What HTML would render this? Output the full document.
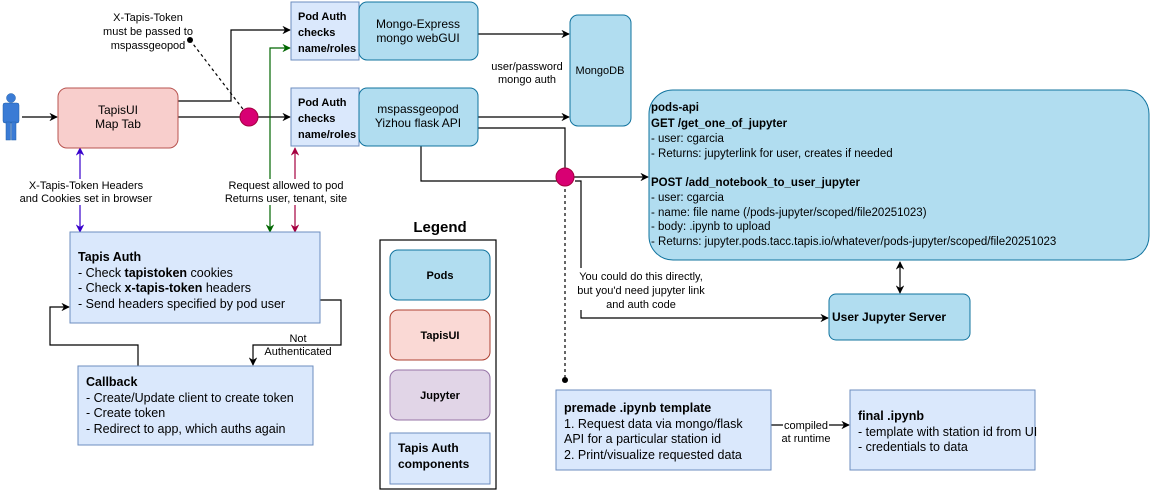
<!DOCTYPE html>
<html><head><meta charset="utf-8"><style>
html,body{margin:0;padding:0;background:#fff;}
svg{display:block;font-family:"Liberation Sans",Arial,sans-serif;}
</style></head><body>
<svg width="1150" height="491" viewBox="0 0 1150 491" xmlns="http://www.w3.org/2000/svg">
<defs>
<marker id="a" viewBox="0 0 10 10" refX="9" refY="5" markerWidth="7" markerHeight="7" orient="auto-start-reverse"><path d="M0,0 L10,5 L0,10 L3,5z" fill="#000"/></marker>
<marker id="g" viewBox="0 0 10 10" refX="9" refY="5" markerWidth="7" markerHeight="7" orient="auto-start-reverse"><path d="M0,0 L10,5 L0,10 L3,5z" fill="#006600"/></marker>
<marker id="r" viewBox="0 0 10 10" refX="9" refY="5" markerWidth="7" markerHeight="7" orient="auto-start-reverse"><path d="M0,0 L10,5 L0,10 L3,5z" fill="#a50040"/></marker>
<marker id="p" viewBox="0 0 10 10" refX="9" refY="5" markerWidth="7" markerHeight="7" orient="auto-start-reverse"><path d="M0,0 L10,5 L0,10 L3,5z" fill="#3700cc"/></marker>
</defs>
<g fill="none" stroke="#000" stroke-width="1.2">
<path d="M22,117 H57" marker-end="url(#a)"/>
<path d="M178,101 H231 V30 H290" marker-end="url(#a)"/>
<path d="M178,117 H290" marker-end="url(#a)"/>
<path d="M190,40 L249,117" stroke-dasharray="3,3"/>
<path d="M478,34 H569" marker-end="url(#a)"/>
<path d="M478,117 H569" marker-end="url(#a)"/>
<path d="M478,128 H565 V177"/>
<path d="M421,146 V181 H565"/>
<path d="M565,177 H648" marker-end="url(#a)"/>
<path d="M575,181 H581 V318 H828" marker-end="url(#a)"/>
<path d="M565,177 V380" stroke-dasharray="3,3"/>
<path d="M900,262 V293" marker-start="url(#a)" marker-end="url(#a)"/>
<path d="M320,300 H341 V345 H253 V365" marker-end="url(#a)"/>
<path d="M138,366 V345 H50 V307 H69" marker-end="url(#a)"/>
<path d="M771,425 H849" marker-end="url(#a)"/>
<path d="M270,232 V48 H290" stroke="#006600" marker-start="url(#g)" marker-end="url(#g)"/>
<path d="M295,148 V232" stroke="#a50040" marker-start="url(#r)" marker-end="url(#r)"/>
<path d="M80,148 V232" stroke="#3700cc" marker-start="url(#p)" marker-end="url(#p)"/>
</g>
<circle cx="190" cy="40" r="3" fill="#000"/>
<circle cx="565" cy="380" r="3" fill="#000"/>
<g fill="#3a7bd5" stroke="#1f5fa8" stroke-width="0.5">
<circle cx="11" cy="98" r="4.5"/>
<rect x="3" y="103" width="16" height="20" rx="2"/>
<rect x="6" y="122" width="4.5" height="18"/>
<rect x="11.5" y="122" width="4.5" height="18"/>
</g>
<rect x="58" y="88" width="120" height="60" rx="9" fill="#f8cecc" stroke="#b85450"/>
<rect x="291" y="2" width="68" height="58" fill="#dae8fc" stroke="#6c8ebf"/>
<rect x="359" y="2" width="119" height="58" rx="8" fill="#b1ddf0" stroke="#10739e"/>
<rect x="291" y="88" width="68" height="58" fill="#dae8fc" stroke="#6c8ebf"/>
<rect x="359" y="88" width="119" height="58" rx="8" fill="#b1ddf0" stroke="#10739e"/>
<rect x="570" y="15" width="61" height="111" rx="8" fill="#b1ddf0" stroke="#10739e"/>
<rect x="649" y="90" width="500" height="170" rx="24" fill="#b1ddf0" stroke="#10739e"/>
<rect x="829" y="294" width="141" height="46" rx="7" fill="#b1ddf0" stroke="#10739e"/>
<rect x="70" y="232" width="250" height="91" fill="#dae8fc" stroke="#6c8ebf"/>
<rect x="78" y="366" width="235" height="79" fill="#dae8fc" stroke="#6c8ebf"/>
<rect x="380" y="240" width="116" height="249" fill="none" stroke="#000" stroke-width="1.2"/>
<rect x="390" y="250" width="100" height="50" rx="8" fill="#b1ddf0" stroke="#10739e"/>
<rect x="390" y="310" width="100" height="50" rx="8" fill="#fad9d5" stroke="#ae4132"/>
<rect x="390" y="370" width="100" height="50" rx="8" fill="#e1d5e7" stroke="#9673a6"/>
<rect x="390" y="433" width="100" height="51" fill="#dae8fc" stroke="#6c8ebf"/>
<rect x="556" y="390" width="215" height="80" fill="#dae8fc" stroke="#6c8ebf"/>
<rect x="850" y="390" width="185" height="80" fill="#dae8fc" stroke="#6c8ebf"/>
<circle cx="249" cy="117" r="9" fill="#d80073" stroke="#a50040"/>
<circle cx="565" cy="177" r="9" fill="#d80073" stroke="#a50040"/>
<rect x="14" y="179" width="146" height="26" fill="#fff"/>
<rect x="222" y="179" width="128" height="26" fill="#fff"/>
<rect x="575" y="268" width="132" height="42" fill="#fff"/>
<rect x="783" y="416" width="46" height="26" fill="#fff"/>
<g font-size="11" fill="#000" text-anchor="middle">
<text x="118" y="114" font-size="12">TapisUI</text><text x="118" y="128" font-size="12">Map Tab</text>
<text x="418" y="28" font-size="12">Mongo-Express</text><text x="418" y="42" font-size="12">mongo webGUI</text>
<text x="418" y="113" font-size="12">mspassgeopod</text><text x="418" y="127" font-size="12">Yizhou flask API</text>
<text x="600" y="74">MongoDB</text>
<text x="527" y="70">user/password</text><text x="527" y="83">mongo auth</text>
<text x="148" y="21">X-Tapis-Token</text><text x="148" y="35">must be passed to</text><text x="148" y="49">mspassgeopod</text>
<text x="86" y="189">X-Tapis-Token Headers</text><text x="86" y="202">and Cookies set in browser</text>
<text x="286" y="189">Request allowed to pod</text><text x="286" y="202">Returns user, tenant, site</text>
<text x="641" y="280">You could do this directly,</text><text x="641" y="294">but you'd need jupyter link</text><text x="641" y="308">and auth code</text>
<text x="298" y="342">Not</text><text x="298" y="355">Authenticated</text>
<text x="806" y="429">compiled</text><text x="806" y="442">at runtime</text>
<text x="440" y="232" font-size="15" font-weight="bold">Legend</text>
<text x="440" y="279" font-weight="bold">Pods</text>
<text x="440" y="339" font-weight="bold">TapisUI</text>
<text x="440" y="399" font-weight="bold">Jupyter</text>
</g>
<g font-size="11" font-weight="bold" fill="#000">
<text x="298" y="20">Pod Auth</text><text x="298" y="36">checks</text><text x="298" y="52">name/roles</text>
<text x="298" y="106">Pod Auth</text><text x="298" y="122">checks</text><text x="298" y="138">name/roles</text>
<text x="398" y="452" font-size="12">Tapis Auth</text><text x="398" y="468" font-size="12">components</text>
<text x="832" y="321" font-size="12">User Jupyter Server</text>
</g>
<g font-size="11.5" fill="#000">
<text x="651" y="111" font-weight="bold">pods-api</text>
<text x="651" y="127" font-weight="bold">GET /get_one_of_jupyter</text>
<text x="651" y="142">- user: cgarcia</text>
<text x="651" y="157">- Returns: jupyterlink for user, creates if needed</text>
<text x="651" y="186" font-weight="bold">POST /add_notebook_to_user_jupyter</text>
<text x="651" y="201">- user: cgarcia</text>
<text x="651" y="216">- name: file name (/pods-jupyter/scoped/file20251023)</text>
<text x="651" y="230">- body: .ipynb to upload</text>
<text x="651" y="245">- Returns: jupyter.pods.tacc.tapis.io/whatever/pods-jupyter/scoped/file20251023</text>
</g>
<g font-size="12.5" fill="#000">
<text x="78" y="261" font-weight="bold">Tapis Auth</text>
<text x="78" y="277">- Check <tspan font-weight="bold">tapistoken</tspan> cookies</text>
<text x="78" y="292">- Check <tspan font-weight="bold">x-tapis-token</tspan> headers</text>
<text x="78" y="308">- Send headers specified by pod user</text>
<text x="86" y="386" font-weight="bold">Callback</text>
<text x="86" y="402">- Create/Update client to create token</text>
<text x="86" y="417">- Create token</text>
<text x="86" y="433">- Redirect to app, which auths again</text>
<text x="564" y="412" font-weight="bold">premade .ipynb template</text>
<text x="564" y="428">1. Request data via mongo/flask</text>
<text x="564" y="443">API for a particular station id</text>
<text x="564" y="459">2. Print/visualize requested data</text>
<text x="858" y="420" font-weight="bold">final .ipynb</text>
<text x="858" y="436">- template with station id from UI</text>
<text x="858" y="451">- credentials to data</text>
</g>
</svg>
</body></html>
